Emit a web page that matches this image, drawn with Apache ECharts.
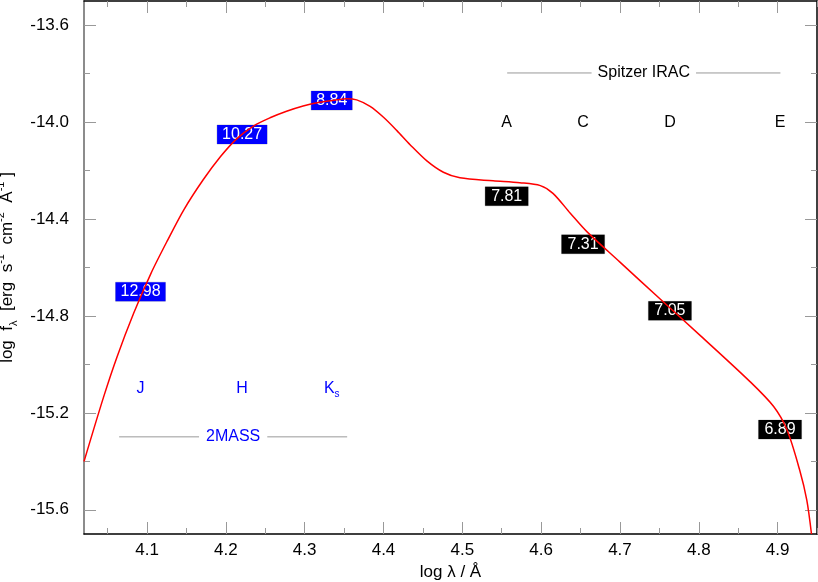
<!DOCTYPE html>
<html>
<head>
<meta charset="utf-8">
<script src="https://cdn.jsdelivr.net/npm/echarts@6/dist/echarts.min.js"></script>
<style>
  html, body { margin: 0; padding: 0; background: #fff; }
  #chart { width: 818px; height: 582px; }
</style>
</head>
<body>
<div id="chart"></div>
<script>
// SED model curve (log lambda, log f_lambda)
const curveX = [4.020, 4.045, 4.062, 4.083, 4.105, 4.126, 4.147, 4.171, 4.193, 4.214, 4.235, 4.256, 4.277, 4.298,
  4.319, 4.341, 4.353, 4.366, 4.383, 4.400, 4.417, 4.434, 4.455, 4.476, 4.497, 4.539, 4.573, 4.599, 4.615,
  4.637, 4.658, 4.700, 4.751, 4.802, 4.865, 4.895, 4.912, 4.928, 4.937, 4.943]
const curveY = [-15.401, -15.133, -14.968, -14.789, -14.624, -14.488, -14.360, -14.239, -14.143, -14.068, -14.016, -13.982, -13.955, -13.933,
  -13.918, -13.908, -13.903, -13.908, -13.935, -13.980, -14.035, -14.094, -14.160, -14.207, -14.230, -14.242, -14.250, -14.262, -14.294,
  -14.376, -14.452, -14.578, -14.730, -14.881, -15.071, -15.174, -15.271, -15.436, -15.559, -15.700]

// photometry: 2MASS (J, H, Ks) and Spitzer IRAC
const twoMassBands = ['J', 'H', 'Ks']
const twoMassX = [4.0917, 4.2206, 4.3343]
const twoMassFlux = [-14.700, -14.051, -13.911]
const twoMassMag = ['12.98', '10.27', '8.84']

const iracBands = ['A', 'C', 'D', 'E']
const iracX = [4.5563, 4.6532, 4.7634, 4.9031]
const iracFlux = [-14.306, -14.504, -14.779, -15.269]
const iracMag = ['7.81', '7.31', '7.05', '6.89']

// axes
const xMin = 4.02, xMax = 4.95
const yMin = -15.7, yMax = -13.5
const xMajor = [4.1, 4.2, 4.3, 4.4, 4.5, 4.6, 4.7, 4.8, 4.9]
const xMinor = [4.05, 4.15, 4.25, 4.35, 4.45, 4.55, 4.65, 4.75, 4.85, 4.95]
const yMajor = [-15.6, -15.2, -14.8, -14.4, -14.0, -13.6]
const yMinor = [-15.4, -15.0, -14.6, -14.2, -13.8]

const font = 'Liberation Sans, Arial, sans-serif'
const blue = '#0000ff'

function axis(kind, position, ticks, len, opts) {
  const a = {
    type: 'value',
    position: position,
    min: kind === 'x' ? xMin : yMin,
    max: kind === 'x' ? xMax : yMax,
    splitLine: { show: false },
    axisLine: { show: false, onZero: false },
    axisTick: { show: true, inside: true, length: len, customValues: ticks, lineStyle: { color: '#999', width: 1 } },
    axisLabel: { show: false }
  }
  return Object.assign(a, opts || {})
}

const frameLine = (c) => ({ show: true, onZero: false, lineStyle: { color: c, width: 1.5 } })
const hidden = { color: 'rgba(0,0,0,0)', opacity: 1 }

const chart = echarts.init(document.getElementById('chart'))

chart.setOption({
  animation: false,
  textStyle: { fontFamily: font },
  grid: { left: 84, right: 1, top: 1, bottom: 48, containLabel: false, outerBoundsMode: 'none' },
  xAxis: [
    axis('x', 'bottom', xMajor, 12, {
      axisLine: frameLine('#000'),
      axisLabel: { show: true, customValues: xMajor, formatter: v => v.toFixed(1), color: '#000', fontSize: 17, margin: 8, fontFamily: font },
      name: 'log λ / Å', nameLocation: 'middle', nameGap: 26,
      nameTextStyle: { color: '#000', fontSize: 17, fontFamily: font }
    }),
    axis('x', 'bottom', xMinor, 6),
    axis('x', 'top', xMajor, 12, { axisLine: frameLine('#000') }),
    axis('x', 'top', xMinor, 6)
  ],
  yAxis: [
    axis('y', 'left', yMajor, 12, {
      axisLine: frameLine('#666'),
      axisLabel: { show: true, customValues: yMajor, formatter: v => v.toFixed(1), color: '#000', fontSize: 17, margin: 15, fontFamily: font },
      name: '{n|log  f}{sub|λ}{n|  [erg  s}{sup|-1}{n|  cm}{sup|-2}{n|  Å}{sup|-1}{n| ]}',
      nameLocation: 'middle', nameGap: 47, nameRotate: 90,
      nameTextStyle: {
        color: '#000', fontSize: 17, fontFamily: font, lineHeight: 24,
        rich: {
          n: { fontSize: 17, fontFamily: font, color: '#000', lineHeight: 24 },
          sub: { fontSize: 11, fontFamily: font, verticalAlign: 'bottom', lineHeight: 24, color: '#000' },
          sup: { fontSize: 11, fontFamily: font, verticalAlign: 'top', lineHeight: 24, color: '#000' }
        }
      }
    }),
    axis('y', 'left', yMinor, 6),
    axis('y', 'right', yMajor, 12, { axisLine: frameLine('#000') }),
    axis('y', 'right', yMinor, 6)
  ],
  series: [
    {
      type: 'line', z: 5, smooth: 0.3, symbol: 'none',
      lineStyle: { color: '#ff0000', width: 1.5 },
      data: curveX.map((x, i) => [x, curveY[i]])
    },
    // bracket lines
    {
      type: 'line', z: 1, symbol: 'none', silent: true,
      lineStyle: { color: '#999', width: 1 },
      data: [[4.0646, -15.299], [4.3539, -15.299]]
    },
    {
      type: 'line', z: 1, symbol: 'none', silent: true,
      lineStyle: { color: '#999', width: 1 },
      data: [[4.5569, -13.797], [4.9036, -13.797]]
    },
    // survey names
    {
      type: 'scatter', z: 2, symbolSize: 1, itemStyle: hidden,
      label: {
        show: true, position: 'inside', formatter: p => p.value[2],
        fontSize: 16, fontFamily: font, backgroundColor: '#fff', padding: [2, 7]
      },
      data: [
        { value: [(4.0646 + 4.3539) / 2, -15.299, '2MASS'], label: { color: blue } },
        { value: [(4.5569 + 4.9036) / 2, -13.797, 'Spitzer IRAC'], label: { color: '#000', padding: [2, 6] } }
      ]
    },
    // band letters
    {
      type: 'scatter', z: 2, symbolSize: 1, itemStyle: hidden,
      label: {
        show: true, position: 'inside', color: blue, fontSize: 16, fontFamily: font, lineHeight: 20,
        formatter: p => p.value[2] === 'Ks' ? 'K{sub|s}' : p.value[2],
        rich: { sub: { fontSize: 10, color: blue, verticalAlign: 'bottom', lineHeight: 20, padding: [6, 0, 0, 0] } }
      },
      data: twoMassX.map((x, i) => [x, -15.101, twoMassBands[i]])
    },
    {
      type: 'scatter', z: 2, symbolSize: 1, itemStyle: hidden,
      label: { show: true, position: 'inside', color: '#000', fontSize: 16, fontFamily: font, formatter: p => p.value[2] },
      data: iracX.map((x, i) => [x, -14.0, iracBands[i]])
    },
    // magnitude boxes
    {
      type: 'scatter', z: 2, symbolSize: 1, itemStyle: hidden,
      label: {
        show: true, position: 'inside', color: '#fff', fontSize: 16, fontFamily: font, formatter: p => p.value[2],
        backgroundColor: blue, padding: [2, 5, 1, 5], borderColor: '#ccc', borderWidth: 0.5
      },
      data: twoMassX.map((x, i) => [x, twoMassFlux[i], twoMassMag[i]])
    },
    {
      type: 'scatter', z: 2, symbolSize: 1, itemStyle: hidden,
      label: {
        show: true, position: 'inside', color: '#fff', fontSize: 16, fontFamily: font, formatter: p => p.value[2],
        backgroundColor: '#000', padding: [2, 6, 1, 6], borderColor: '#ccc', borderWidth: 0.5
      },
      data: iracX.map((x, i) => [x, iracFlux[i], iracMag[i]])
    }
  ]
})
</script>
</body>
</html>
